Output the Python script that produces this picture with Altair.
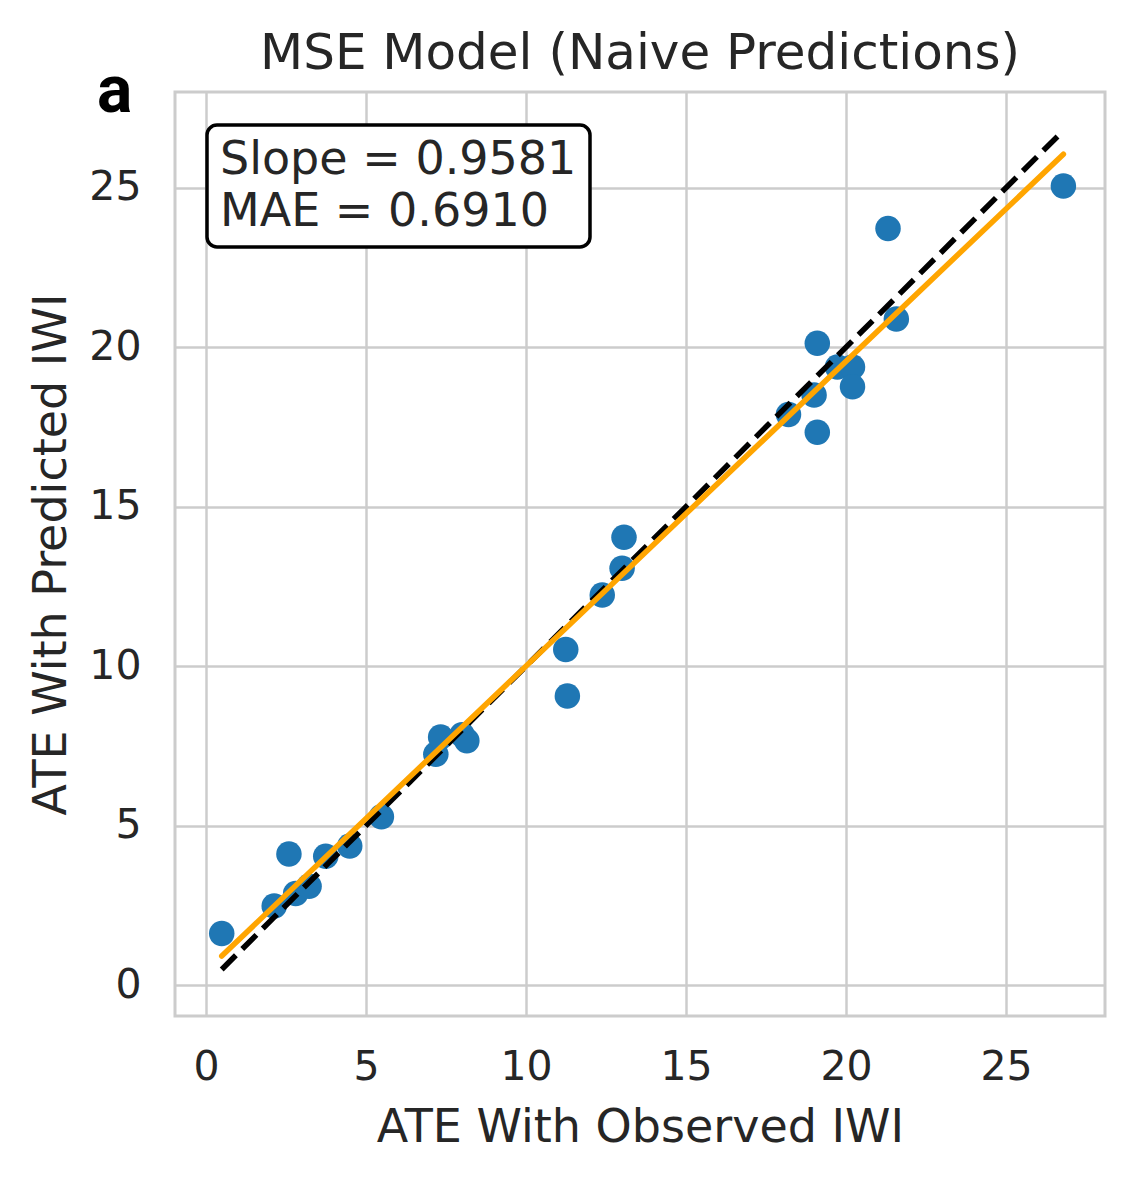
import altair as alt
import pandas as pd

# Data
obs = [0.49, 2.13, 2.59, 2.80, 3.22, 3.74, 4.49, 5.48, 7.18, 7.33, 8.00, 8.15,
       11.24, 11.29, 12.38, 13.00, 13.06, 18.20, 19.00, 19.10, 19.10, 19.73,
       20.20, 20.20, 21.31, 21.57, 26.79]
pred = [1.62, 2.48, 4.11, 2.87, 3.10, 4.04, 4.36, 5.28, 7.24, 7.78, 7.85, 7.66,
        10.52, 9.06, 12.23, 13.07, 14.04, 17.89, 18.50, 20.12, 17.33, 19.38,
        19.38, 18.76, 23.72, 20.88, 25.05]
ident_x = [0.49, 26.79]
ident_y = [0.49, 26.79]
fit_x = [0.49, 26.79]
fit_y = [0.91, 26.05]
x_ticks = [0, 5, 10, 15, 20, 25]
y_ticks = [0, 5, 10, 15, 20, 25]
x_domain = [-0.97, 28.09]
y_domain = [-0.97, 28.0]
annot_lines = ["Slope = 0.9581", "MAE = 0.6910"]
title_text = "MSE Model (Naive Predictions)"
panel_text = "a"

TXT = "#262626"
FONT = "DejaVu Sans"

pts = pd.DataFrame({"obs": obs, "pred": pred})
ident = pd.DataFrame({"obs": ident_x, "pred": ident_y})
fit = pd.DataFrame({"obs": fit_x, "pred": fit_y})
one = pd.DataFrame({"k": [0]})

xs = alt.Scale(domain=x_domain, nice=False, zero=False)
ys = alt.Scale(domain=y_domain, nice=False, zero=False)

xax = alt.Axis(values=x_ticks, title="ATE With Observed IWI", labelFontSize=41,
               titleFontSize=46, labelBaseline="alphabetic", labelPadding=63,
               titleX=465, titleY=125, titleBaseline="alphabetic", titleAlign="center",
               labelFont=FONT, titleFont=FONT, labelColor=TXT, titleColor=TXT,
               titleFontWeight="normal", grid=True, gridColor="#cccccc", gridWidth=2.5,
               domain=False, ticks=False, tickSize=0)
yax = alt.Axis(values=y_ticks, title="ATE With Predicted IWI", labelFontSize=41,
               titleFontSize=46, labelPadding=34,
               titleX=-110, titleY=462, titleBaseline="alphabetic", titleAlign="center",
               titleAngle=270,
               labelFont=FONT, titleFont=FONT, labelColor=TXT, titleColor=TXT,
               titleFontWeight="normal", grid=True, gridColor="#cccccc", gridWidth=2.5,
               domain=False, ticks=False, tickSize=0)

points = alt.Chart(pts).mark_circle(size=650, color="#1f77b4", opacity=1).encode(
    x=alt.X("obs:Q", scale=xs, axis=xax),
    y=alt.Y("pred:Q", scale=ys, axis=yax),
)

ident_line = alt.Chart(ident).mark_line(color="black", strokeWidth=5.5,
                                        strokeDash=[20, 9]).encode(
    x=alt.X("obs:Q", scale=xs), y=alt.Y("pred:Q", scale=ys))

fit_line = alt.Chart(fit).mark_line(color="#FFA500", strokeWidth=5.5,
                                    strokeCap="round").encode(
    x=alt.X("obs:Q", scale=xs), y=alt.Y("pred:Q", scale=ys))

box = alt.Chart(one).mark_rect(fill="white", stroke="black", strokeWidth=3.5,
                               cornerRadius=10).encode(
    x=alt.value(32), x2=alt.value(415), y=alt.value(33), y2=alt.value(155))

annot = alt.Chart(one).mark_text(text=annot_lines, font=FONT, fontSize=46,
                                 color=TXT, align="left", baseline="alphabetic",
                                 lineHeight=52).encode(
    x=alt.value(45), y=alt.value(82))

title = alt.Chart(one).mark_text(text=title_text, font=FONT, fontSize=50,
                                 color=TXT, align="center",
                                 baseline="alphabetic").encode(
    x=alt.value(465), y=alt.value(-23))

panel_label = alt.Chart(one).mark_text(text=panel_text, font="Roboto",
                                       fontWeight="bold", fontSize=66,
                                       color="black", align="left",
                                       baseline="alphabetic").encode(
    x=alt.value(-78), y=alt.value(20))

chart = alt.layer(points, ident_line, fit_line, box, annot, title, panel_label).properties(
    width=930, height=924,
    background="white",
    autosize=alt.AutoSizeParams(type="none"),
    padding={"left": 167, "top": 84, "right": 12, "bottom": 150},
).configure_view(
    stroke="#cccccc", strokeWidth=3, fill="white"
)

chart.save("out.html", embed_options={"renderer": "svg", "actions": False})
